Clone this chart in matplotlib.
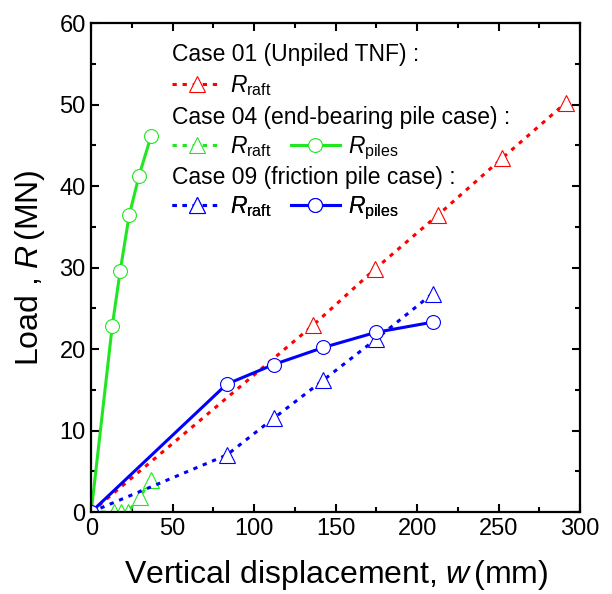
import matplotlib
matplotlib.use('Agg')
import matplotlib.pyplot as plt
from matplotlib.lines import Line2D
from matplotlib.ticker import MultipleLocator


# %% data (w in mm, R in MN)

w_case01_raft = [0, 136, 174, 213, 252, 291]
r_case01_raft = [0, 22.9, 29.8, 36.5, 43.4, 50.2]

w_case04_raft = [0, 14, 18.3, 22.6, 30, 36.6]
r_case04_raft = [0, 0, 0, 0, 1.9, 3.9]
w_case04_piles = [0, 12.9, 17.8, 23.3, 29.4, 36.8]
r_case04_piles = [0, 22.8, 29.6, 36.4, 41.3, 46.2]

w_case09_raft = [0, 83.2, 111.9, 142.5, 174.6, 209.4]
r_case09_raft = [0, 7.0, 11.5, 16.2, 21.2, 26.8]
w_case09_piles = [0, 83.2, 111.9, 142.5, 174.6, 209.4]
r_case09_piles = [0, 15.7, 18.1, 20.2, 22.05, 23.3]

RED = '#ff0000'
GREEN = '#22e622'
BLUE = '#0000ff'

plt.rcParams['font.family'] = ['Liberation Sans', 'DejaVu Sans']
plt.rcParams['mathtext.fontset'] = 'custom'
plt.rcParams['mathtext.rm'] = 'Liberation Sans'
plt.rcParams['mathtext.it'] = 'Liberation Sans:italic'

dotted = (0, (1.4, 1.9))
raft_style = dict(linestyle=dotted, lw=2.2, marker='^', markersize=11,
                  markerfacecolor='white', markeredgewidth=0.8)
pile_style = dict(linestyle='-', lw=2.2, marker='o', markersize=10,
                  markerfacecolor='white', markeredgewidth=0.8)

fig = plt.figure(figsize=(6.12, 5.94), dpi=100)
ax = fig.add_axes([0.149, 0.138, 0.799, 0.823])

ax.plot(w_case01_raft, r_case01_raft, color=RED, **raft_style)
ax.plot(w_case04_raft, r_case04_raft, color=GREEN, **raft_style)
ax.plot(w_case04_piles, r_case04_piles, color=GREEN, **pile_style)
ax.plot(w_case09_raft, r_case09_raft, color=BLUE, **raft_style)
ax.plot(w_case09_piles, r_case09_piles, color=BLUE, **pile_style)

ax.set_xlim(0, 300)
ax.set_ylim(0, 60)
ax.xaxis.set_major_locator(MultipleLocator(50))
ax.xaxis.set_minor_locator(MultipleLocator(25))
ax.yaxis.set_major_locator(MultipleLocator(10))
ax.yaxis.set_minor_locator(MultipleLocator(5))
ax.tick_params(which='both', direction='in', top=True, right=True, width=1.5)
ax.tick_params(which='major', length=6, labelsize=17, pad=4)
ax.tick_params(which='minor', length=3.5)
for side in ax.spines.values():
    side.set_linewidth(1.6)

ax.set_xlabel(r'Vertical displacement, $w\,$(mm)', fontsize=23, labelpad=13)
ax.set_ylabel(r'Load , $R\,$(MN)', fontsize=23, labelpad=9)

# %% legend: headers as text, one small legend per row

lx = 0.166
headers = ['Case 01 (Unpiled TNF) :',
           'Case 04 (end-bearing pile case) :',
           'Case 09 (friction pile case) :']
header_y = [0.935, 0.808, 0.685]
row_y = [0.872, 0.745, 0.621]
for txt, y in zip(headers, header_y):
    ax.text(lx, y, txt, transform=ax.transAxes, fontsize=16.5, va='center', ha='left')


def raft_handle(c):
    return Line2D([0], [0], color=c, **raft_style)


def pile_handle(c):
    return Line2D([0], [0], color=c, **pile_style)


rows = [([raft_handle(RED)], [r'$R_{\mathrm{raft}}$']),
        ([raft_handle(GREEN), pile_handle(GREEN)], [r'$R_{\mathrm{raft}}$', r'$R_{\mathrm{piles}}$']),
        ([raft_handle(BLUE), pile_handle(BLUE)], [r'$R_{\mathrm{raft}}$', r'$R_{\mathrm{piles}}$'])]
for (handles, labels), y in zip(rows, row_y):
    leg = ax.legend(handles, labels, loc='center left', bbox_to_anchor=(lx, y),
                    ncol=len(handles), frameon=False, fontsize=16.5, borderpad=0,
                    borderaxespad=0, handlelength=2.15, handletextpad=0.35,
                    columnspacing=0.85)
    ax.add_artist(leg)

fig.savefig('out.png', dpi=100)
